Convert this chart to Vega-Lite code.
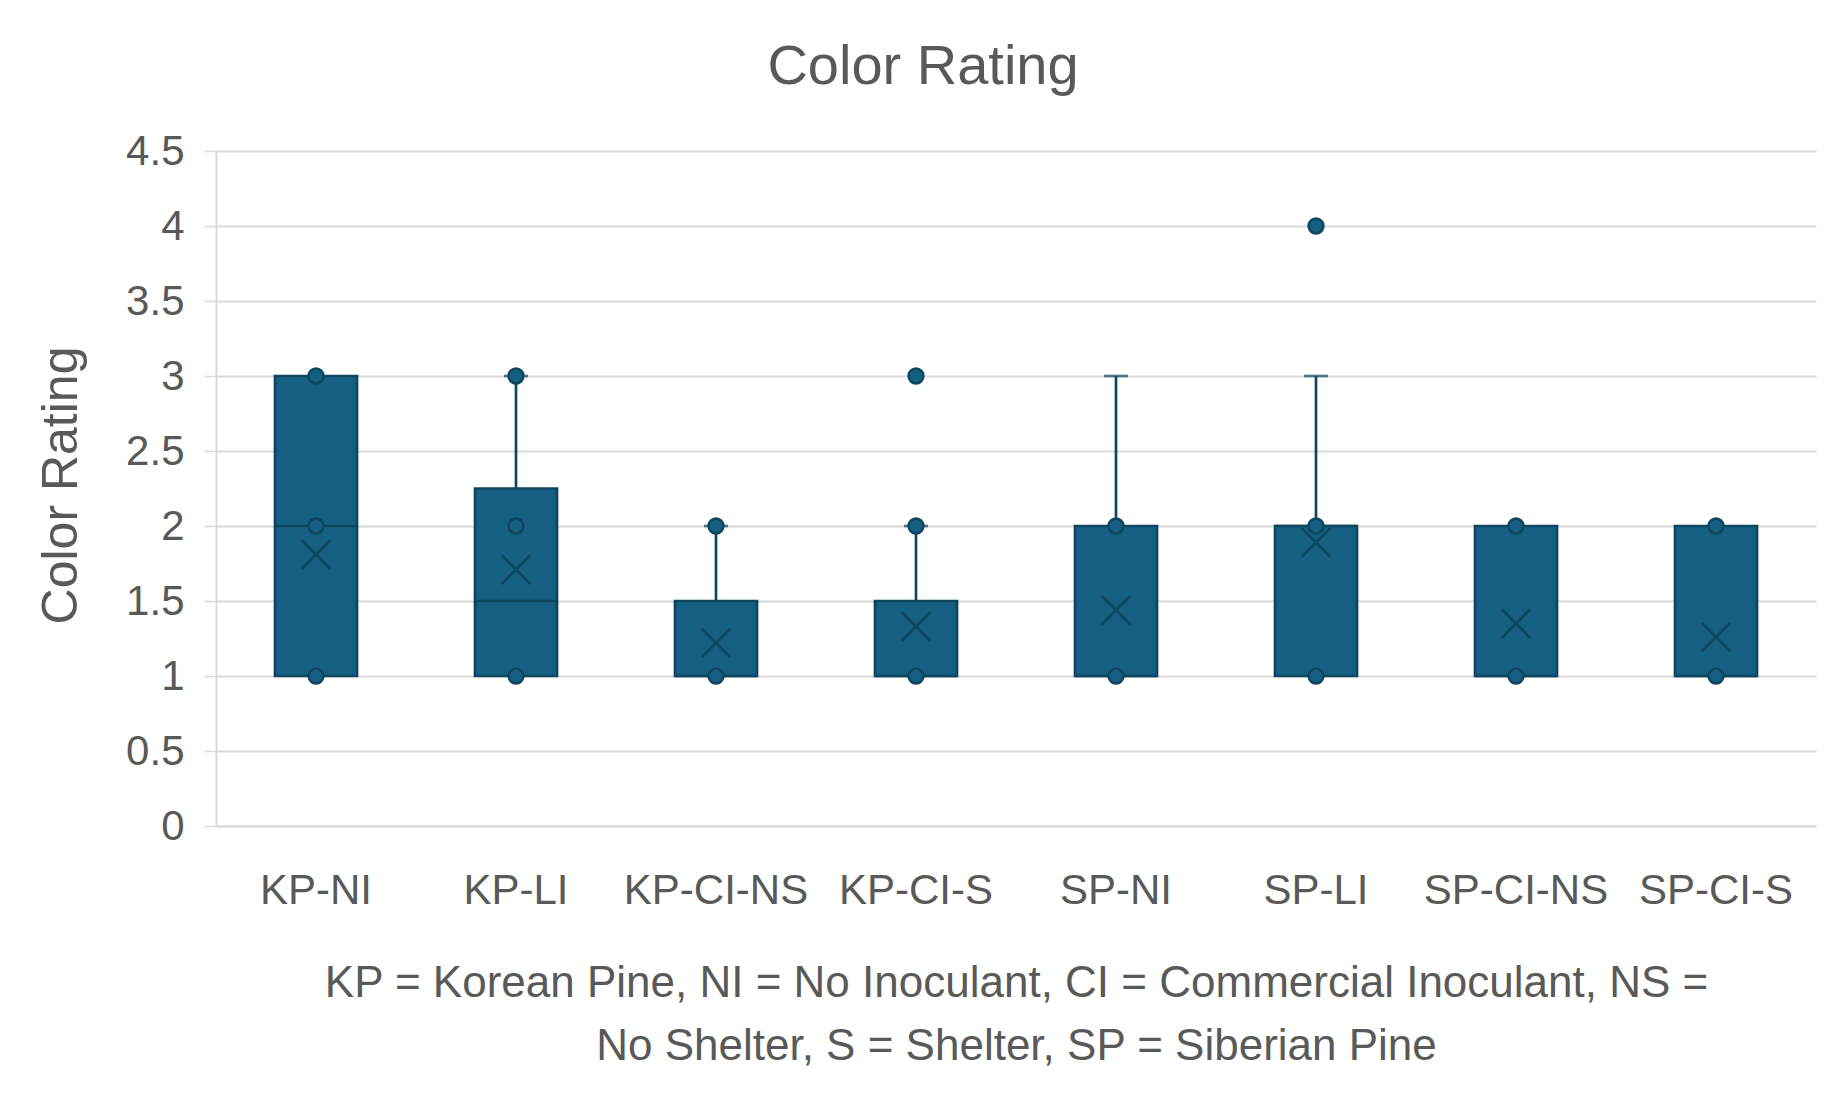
{
  "$schema": "https://vega.github.io/schema/vega-lite/v6.json",
  "autosize": {"type": "none"},
  "width": 1600,
  "height": 675,
  "padding": {"left": 216, "top": 151, "right": 31, "bottom": 273},
  "background": "white",
  "title": {
    "text": "Color Rating",
    "font": "Liberation Sans",
    "fontSize": 56,
    "fontWeight": "normal",
    "color": "#595959",
    "anchor": "middle",
    "frame": "group",
    "baseline": "alphabetic",
    "offset": 0,
    "dx": -93,
    "dy": 10
  },
  "datasets": {
    "boxes": [
      {"group": "KP-NI", "q1": 1, "median": 2, "q3": 3, "hi": 3, "mean": 1.81},
      {"group": "KP-LI", "q1": 1, "median": 1.5, "q3": 2.25, "hi": 3, "mean": 1.71},
      {"group": "KP-CI-NS", "q1": 1, "median": 1, "q3": 1.5, "hi": 2, "mean": 1.22},
      {"group": "KP-CI-S", "q1": 1, "median": 1, "q3": 1.5, "hi": 2, "mean": 1.33},
      {"group": "SP-NI", "q1": 1, "median": 1, "q3": 2, "hi": 3, "mean": 1.44},
      {"group": "SP-LI", "q1": 1, "median": 2, "q3": 2, "hi": 3, "mean": 1.89},
      {"group": "SP-CI-NS", "q1": 1, "median": 1, "q3": 2, "hi": 2, "mean": 1.35},
      {"group": "SP-CI-S", "q1": 1, "median": 1, "q3": 2, "hi": 2, "mean": 1.26}
    ],
    "points": [
      {"group": "KP-NI", "value": 1}, {"group": "KP-NI", "value": 2}, {"group": "KP-NI", "value": 3},
      {"group": "KP-LI", "value": 1}, {"group": "KP-LI", "value": 2}, {"group": "KP-LI", "value": 3},
      {"group": "KP-CI-NS", "value": 1}, {"group": "KP-CI-NS", "value": 2},
      {"group": "KP-CI-S", "value": 1}, {"group": "KP-CI-S", "value": 2}, {"group": "KP-CI-S", "value": 3},
      {"group": "SP-NI", "value": 1}, {"group": "SP-NI", "value": 2},
      {"group": "SP-LI", "value": 1}, {"group": "SP-LI", "value": 2}, {"group": "SP-LI", "value": 4},
      {"group": "SP-CI-NS", "value": 1}, {"group": "SP-CI-NS", "value": 2},
      {"group": "SP-CI-S", "value": 1}, {"group": "SP-CI-S", "value": 2}
    ]
  },
  "encoding": {
    "x": {
      "field": "group",
      "type": "nominal",
      "sort": ["KP-NI", "KP-LI", "KP-CI-NS", "KP-CI-S", "SP-NI", "SP-LI", "SP-CI-NS", "SP-CI-S"],
      "scale": {"paddingInner": 0, "paddingOuter": 0},
      "axis": {
        "title": ["KP = Korean Pine, NI = No Inoculant, CI = Commercial Inoculant, NS =", "No Shelter, S = Shelter, SP = Siberian Pine"],
        "titleFont": "Liberation Sans",
        "titleFontSize": 44,
        "titleFontWeight": "normal",
        "titleColor": "#595959",
        "titleX": 800,
        "titleY": 170,
        "titleAlign": "center",
        "titleBaseline": "alphabetic",
        "titleLineHeight": 63,
        "labelFont": "Liberation Sans",
        "labelFontSize": 42,
        "labelColor": "#595959",
        "labelAngle": 0,
        "labelBaseline": "alphabetic",
        "labelPadding": 77,
        "labelLimit": 0,
        "labelOverlap": false,
        "ticks": false,
        "tickSize": 0,
        "domainColor": "#D9D9D9",
        "domainWidth": 2,
        "grid": false
      }
    }
  },
  "layer": [
    {
      "data": {"name": "boxes"},
      "transform": [{"filter": "datum.hi > datum.q3"}],
      "mark": {"type": "rule", "color": "#0F4761", "strokeWidth": 2.7},
      "encoding": {
        "y": {"field": "q3", "type": "quantitative", "scale": {"domain": [0, 4.5], "nice": false},
          "axis": {
            "title": "Color Rating",
            "titleFont": "Liberation Sans",
            "titleFontSize": 50,
            "titleFontWeight": "normal",
            "titleColor": "#595959",
            "titleX": -155,
            "titleY": 334,
            "titleAngle": 270,
            "titleAlign": "center",
            "titleBaseline": "middle",
            "values": [0, 0.5, 1, 1.5, 2, 2.5, 3, 3.5, 4, 4.5],
            "format": "~g",
            "labelFont": "Liberation Sans",
            "labelFontSize": 42,
            "labelColor": "#595959",
            "labelPadding": 20,
            "tickSize": 12,
            "tickColor": "#D9D9D9",
            "tickWidth": 1.5,
            "domainColor": "#D9D9D9",
            "domainWidth": 2,
            "gridColor": "#D9D9D9",
            "gridWidth": 1.8
          }},
        "y2": {"field": "hi"}
      }
    },
    {
      "data": {"name": "boxes"},
      "transform": [{"filter": "datum.hi > datum.q3"}],
      "mark": {"type": "tick", "orient": "horizontal", "color": "#0F4761", "size": 24, "thickness": 2.7},
      "encoding": {
        "y": {"field": "hi", "type": "quantitative"}
      }
    },
    {
      "data": {"name": "boxes"},
      "mark": {"type": "bar", "size": 82, "fill": "#156082", "stroke": "#0F4761", "strokeWidth": 2.7},
      "encoding": {
        "y": {"field": "q1", "type": "quantitative"},
        "y2": {"field": "q3"}
      }
    },
    {
      "data": {"name": "boxes"},
      "mark": {"type": "tick", "orient": "horizontal", "color": "#0F4761", "size": 82, "thickness": 2.7, "opacity": 1},
      "encoding": {
        "y": {"field": "median", "type": "quantitative"}
      }
    },
    {
      "data": {"name": "boxes"},
      "mark": {"type": "point", "shape": "M-1,-1L1,1M-1,1L1,-1", "filled": false, "stroke": "#0F4761", "strokeWidth": 3, "size": 841, "opacity": 1},
      "encoding": {
        "y": {"field": "mean", "type": "quantitative"}
      }
    },
    {
      "data": {"name": "points"},
      "mark": {"type": "point", "shape": "circle", "filled": true, "fill": "#156082", "stroke": "#0F4761", "strokeWidth": 2.5, "size": 220, "opacity": 1},
      "encoding": {
        "y": {"field": "value", "type": "quantitative"}
      }
    }
  ],
  "config": {
    "view": {"stroke": null},
    "axis": {"labelFont": "Liberation Sans"}
  }
}
